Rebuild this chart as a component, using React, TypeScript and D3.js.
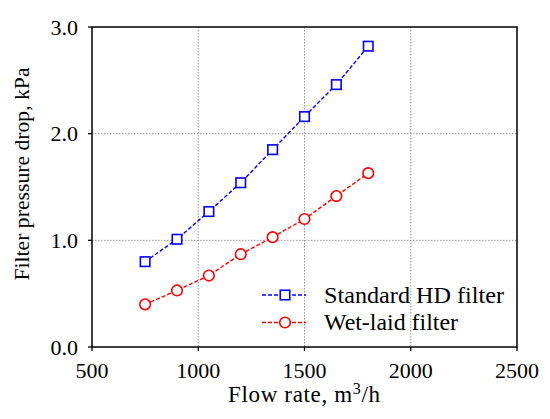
import React from "react";
import * as d3 from "d3";

const flowRates = [750, 900, 1050, 1200, 1350, 1500, 1650, 1800];
const standardHD = [0.8, 1.01, 1.27, 1.54, 1.85, 2.16, 2.46, 2.82];
const wetLaid = [0.4, 0.53, 0.67, 0.87, 1.03, 1.2, 1.415, 1.63];
const xTicks = [500, 1000, 1500, 2000, 2500];
const yTicks = [0, 1, 2, 3];
const xGrid = [1000, 1500, 2000];
const yGrid = [1, 2];
const seriesNames = ["Standard HD filter", "Wet-laid filter"];

const W = 550;
const H = 419;
const M = { left: 92, right: 517, top: 27, bottom: 347 };
const FONT = "'Liberation Serif', 'Times New Roman', serif";

export default function App() {
  const x = d3.scaleLinear().domain([500, 2500]).range([M.left, M.right]);
  const y = d3.scaleLinear().domain([0, 3]).range([M.bottom, M.top]);
  const line = d3
    .line<[number, number]>()
    .x((d) => x(d[0]))
    .y((d) => y(d[1]));
  const blueData = flowRates.map((f, i) => [f, standardHD[i]] as [number, number]);
  const redData = flowRates.map((f, i) => [f, wetLaid[i]] as [number, number]);
  const sq = 9.5;
  const r = 5.3;

  return (
    <svg
      width={W}
      height={H}
      style={{ position: "absolute", left: 0, top: 0, background: "#fff" }}
      fontFamily={FONT}
    >
      {/* grid */}
      {xGrid.map((v) => (
        <line
          key={"gx" + v}
          x1={x(v)}
          x2={x(v)}
          y1={M.top}
          y2={M.bottom}
          stroke="#999"
          strokeWidth={1}
          strokeDasharray="1.5,1.5"
        />
      ))}
      {yGrid.map((v) => (
        <line
          key={"gy" + v}
          x1={M.left}
          x2={M.right}
          y1={y(v)}
          y2={y(v)}
          stroke="#999"
          strokeWidth={1}
          strokeDasharray="1.5,1.5"
        />
      ))}

      {/* series lines */}
      <path d={line(blueData) || ""} fill="none" stroke="#0000ff" strokeWidth={1.4} strokeDasharray="4,2" />
      <path d={line(redData) || ""} fill="none" stroke="#ff0000" strokeWidth={1.4} strokeDasharray="4,2" />

      {blueData.map((d, i) => (
        <rect
          key={"b" + i}
          x={x(d[0]) - sq / 2}
          y={y(d[1]) - sq / 2}
          width={sq}
          height={sq}
          fill="#fff"
          stroke="#0000ff"
          strokeWidth={1.6}
        />
      ))}
      {redData.map((d, i) => (
        <circle
          key={"r" + i}
          cx={x(d[0])}
          cy={y(d[1])}
          r={r}
          fill="#fff"
          stroke="#ff0000"
          strokeWidth={1.6}
        />
      ))}

      {/* frame */}
      <rect
        x={M.left}
        y={M.top}
        width={M.right - M.left}
        height={M.bottom - M.top}
        fill="none"
        stroke="#000"
        strokeWidth={1.5}
      />

      {/* x ticks */}
      {xTicks.map((v) => (
        <g key={"xt" + v}>
          <line x1={x(v)} x2={x(v)} y1={M.bottom} y2={M.bottom + 4} stroke="#000" strokeWidth={1.3} />
          <text x={x(v)} y={378} textAnchor="middle" fontSize={22} fill="#000">
            {v}
          </text>
        </g>
      ))}
      {/* y ticks */}
      {yTicks.map((v) => (
        <g key={"yt" + v}>
          <line x1={M.left - 4} x2={M.left} y1={y(v)} y2={y(v)} stroke="#000" strokeWidth={1.3} />
          <text x={78} y={y(v) + 7.5} textAnchor="end" fontSize={22} fill="#000">
            {v.toFixed(1)}
          </text>
        </g>
      ))}

      {/* axis titles */}
      <text x={304} y={402} textAnchor="middle" fontSize={23} fill="#000" textLength={152} lengthAdjust="spacing">
        Flow rate, m
        <tspan fontSize={16} dy={-8.5}>
          3
        </tspan>
        <tspan dy={8.5}>/h</tspan>
      </text>
      <text
        transform={`translate(29,174) rotate(-90)`}
        textAnchor="middle"
        fontSize={22}
        fill="#000"
        textLength={213}
        lengthAdjust="spacingAndGlyphs"
      >
        Filter pressure drop, kPa
      </text>

      {/* legend */}
      <g>
        <line x1={262} x2={306} y1={295} y2={295} stroke="#0000ff" strokeWidth={1.4} strokeDasharray="4,2" />
        <rect x={285 - sq / 2} y={295 - sq / 2} width={sq} height={sq} fill="#fff" stroke="#0000ff" strokeWidth={1.6} />
        <text x={324} y={302.7} fontSize={24} fill="#000" textLength={180} lengthAdjust="spacingAndGlyphs">
          {seriesNames[0]}
        </text>
        <line x1={262} x2={306} y1={322.5} y2={322.5} stroke="#ff0000" strokeWidth={1.4} strokeDasharray="4,2" />
        <circle cx={285} cy={322.5} r={r} fill="#fff" stroke="#ff0000" strokeWidth={1.6} />
        <text x={324} y={330.2} fontSize={24} fill="#000" textLength={134} lengthAdjust="spacingAndGlyphs">
          {seriesNames[1]}
        </text>
      </g>
    </svg>
  );
}
